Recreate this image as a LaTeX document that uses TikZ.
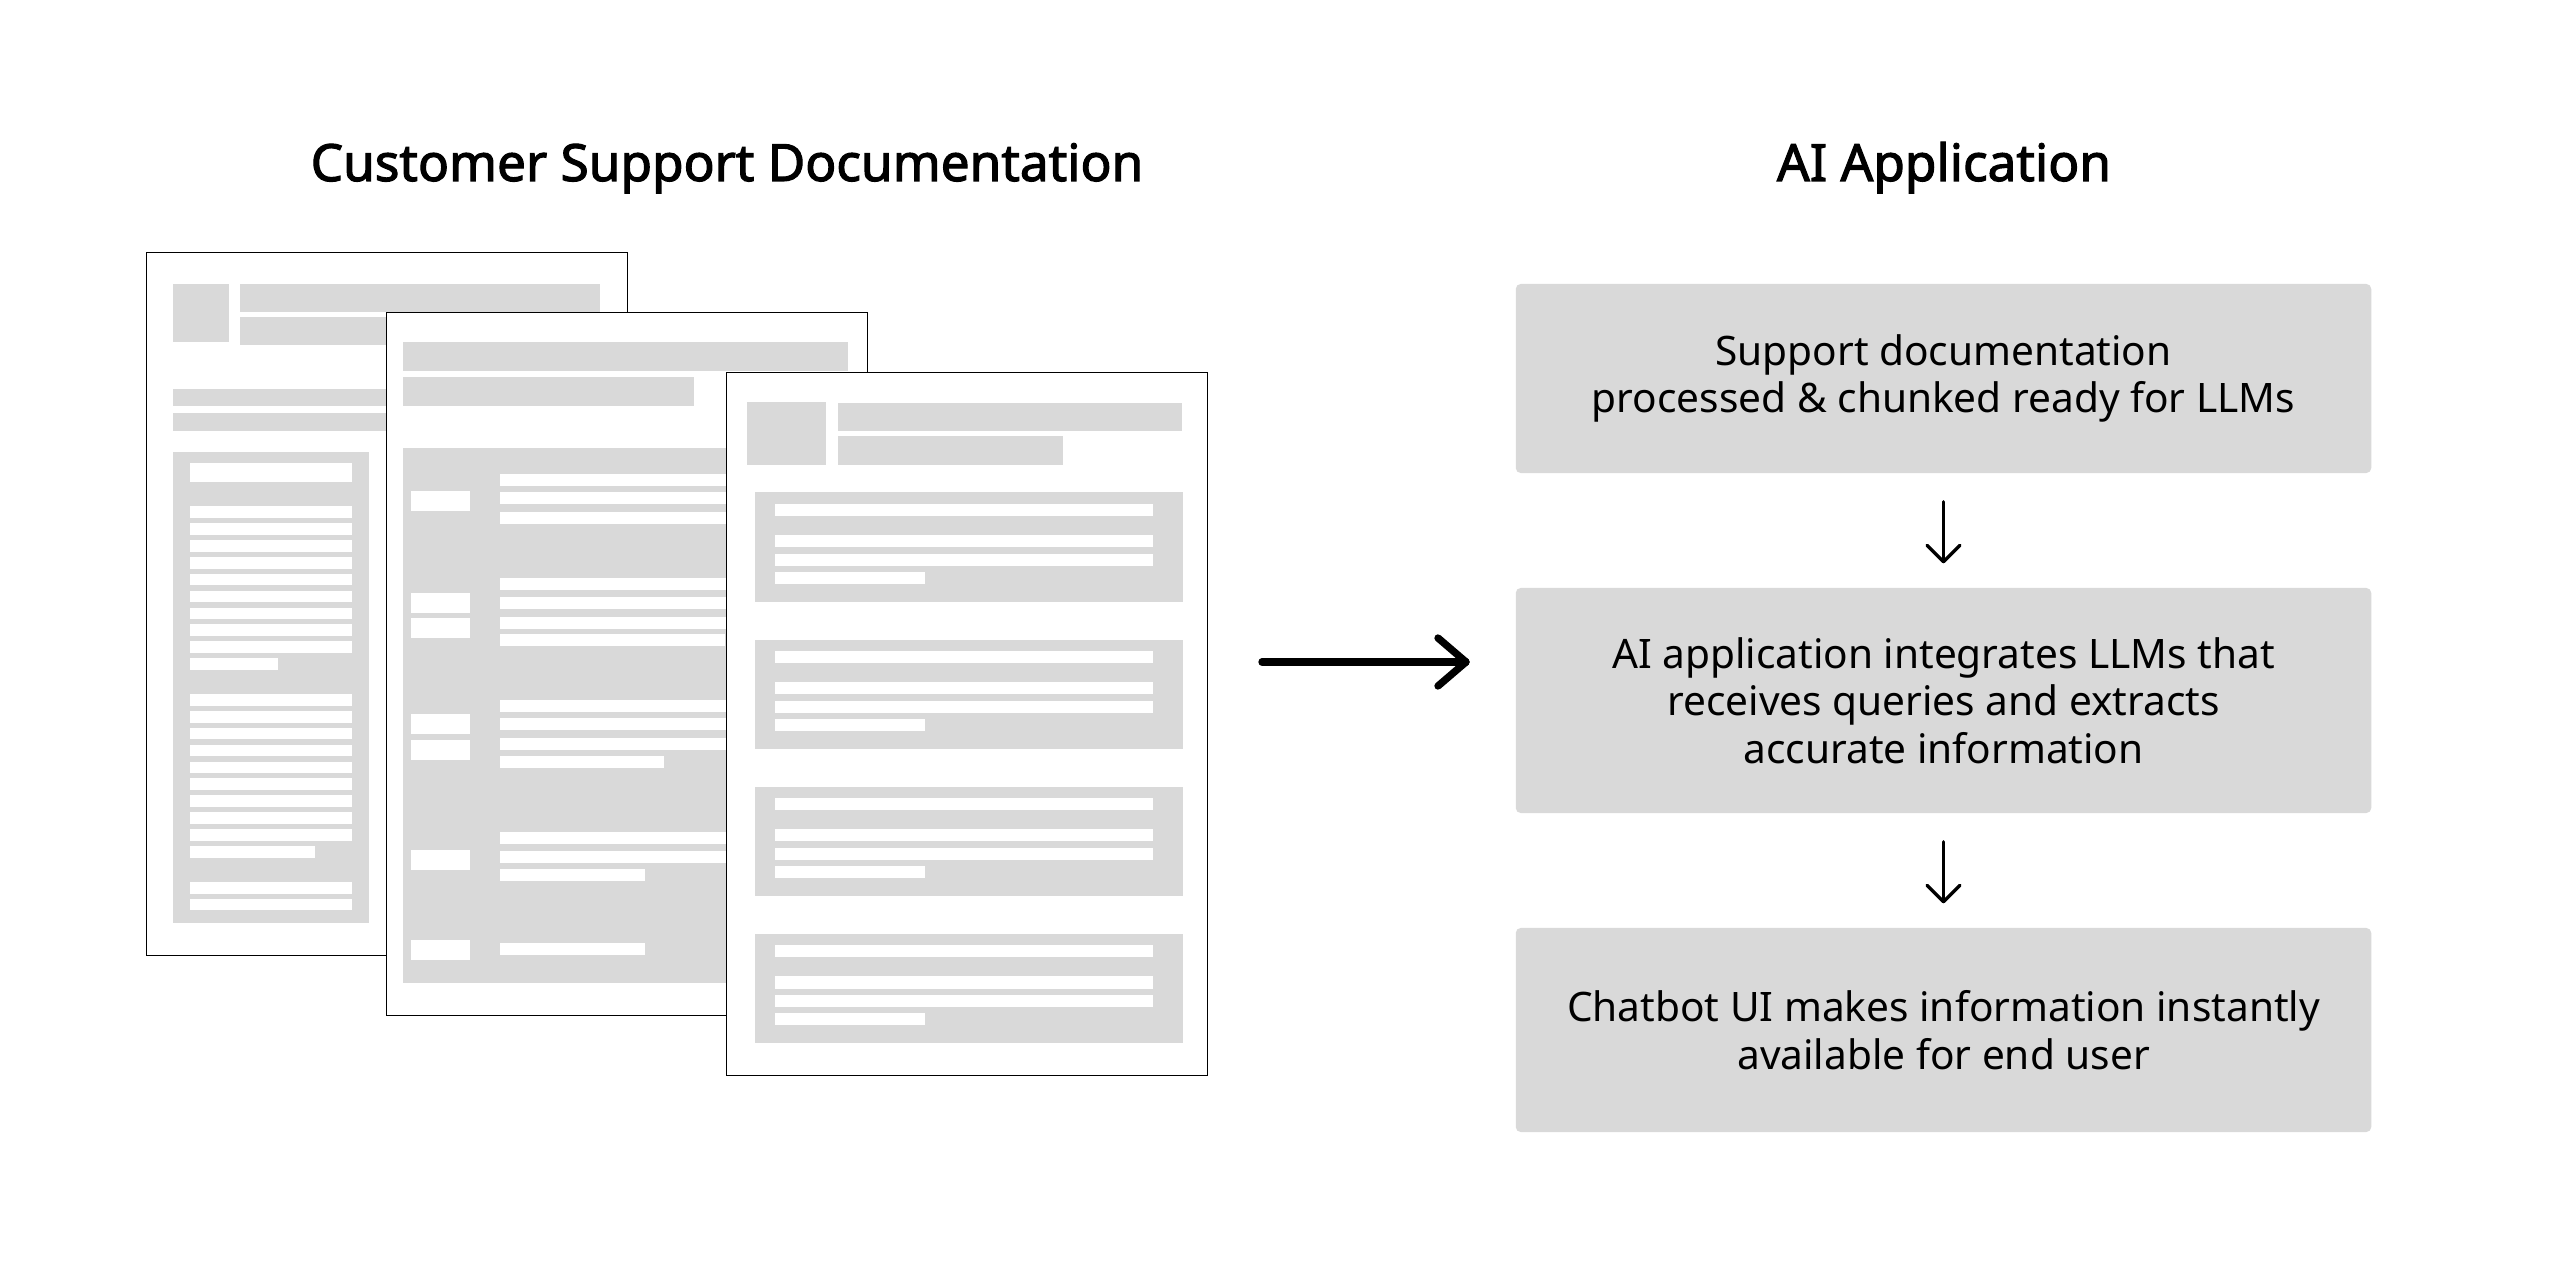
\documentclass[tikz,border=0pt]{standalone}
\usepackage{fontspec}
\setmainfont{Noto Sans}
\newfontfamily\titlefont[FakeBold=2.2]{Noto Sans}
\usetikzlibrary{calc}
\definecolor{docgray}{HTML}{D9D9D9}
\begin{document}
\begin{tikzpicture}[x=0.01cm,y=-0.01cm,
  page/.style={draw=black, line width=0.3pt, fill=white, minimum width=4.8cm, minimum height=7.02cm, inner sep=0pt, anchor=north west},
  stepbox/.style={fill=docgray, rounded corners=0.05cm, minimum width=8.55cm, inner sep=0pt, align=center, font=\fontsize{11.55}{13.5}\selectfont},
  title/.style={font=\titlefont\fontsize{14.6}{17}\selectfont, anchor=base},
  bigarrow/.style={line width=2.08pt, line cap=round, line join=round},
  smallarrow/.style={line width=0.94pt, line cap=round, line join=round},
]
\useasboundingbox[fill=white] (0,0) rectangle (2575,1264);

% ---------- page 1 ----------
\node[page] (doc1) at (146.3,252.3) {};
\begin{scope}[shift={(146.3,252.3)}]
  \fill[docgray] (26.7,31.7) rectangle (82.3,89.4);
  \fill[docgray] (93.7,31.7) rectangle (453.3,59.5);
  \fill[docgray] (93.7,64.7) rectangle (330,92.4);
  \fill[docgray] (26.3,137) rectangle (453.3,154);
  \fill[docgray] (26.3,161) rectangle (453.3,179);
  \fill[docgray] (26.3,199.4) rectangle (223,670.6);
  \fill[white] (43.7,210.6) rectangle (205.3,229.7);
  \foreach \i in {0,...,8} {\fill[white] (43.7,{254+16.87*\i}) rectangle (205.3,{265.6+16.87*\i});}
  \fill[white] (43.7,{254+16.87*9}) rectangle (131.3,{265.6+16.87*9});
  \foreach \i in {0,...,8} {\fill[white] (43.7,{441.8+16.87*\i}) rectangle (205.3,{453.4+16.87*\i});}
  \fill[white] (43.7,{441.8+16.87*9}) rectangle (168.3,{453.4+16.87*9});
  \fill[white] (43.7,630) rectangle (205.3,641.6);
  \fill[white] (43.7,646.3) rectangle (205.3,657.9);
\end{scope}

% ---------- page 2 ----------
\node[page] (doc2) at (386.3,312.3) {};
\begin{scope}[shift={(386.3,312.3)}]
  \fill[docgray] (16.3,29.4) rectangle (461.3,58.7);
  \fill[docgray] (16.3,64.3) rectangle (307.3,93.7);
  \fill[docgray] (16.3,135.6) rectangle (461.3,670.6);
  \foreach \t in {179,281,306.1,401.7,427.8,537.8,627.7} {\fill[white] (24.7,\t) rectangle (83.3,{\t+19.6});}
  \foreach \t in {161.7,179.9,199.4,266.1,284.7,304.3,387.2,405.9,425.5,519.6,538.2} {\fill[white] (114,\t) rectangle (445,{\t+12.1});}
  \fill[white] (114,322) rectangle (338.3,334.1);
  \fill[white] (114,443.2) rectangle (277.3,455.3);
  \fill[white] (114,556.9) rectangle (259,569);
  \fill[white] (114,631) rectangle (259,643.1);
\end{scope}

% ---------- page 3 ----------
\node[page] (doc3) at (726.3,372.3) {};
\begin{scope}[shift={(726.3,372.3)}]
  \fill[docgray] (20.7,29.4) rectangle (99.3,92.3);
  \fill[docgray] (111.3,30.3) rectangle (455.7,58.3);
  \fill[docgray] (111.3,63.4) rectangle (336.7,92.3);
  \foreach \t in {120.2,267.5,414.3,561.7} {
    \fill[docgray] (28.7,\t) rectangle (456.5,{\t+109.1});
    \fill[white] (48.7,{\t+11.2}) rectangle (426.7,{\t+23.3});
    \fill[white] (48.7,{\t+42.4}) rectangle (426.7,{\t+54.5});
    \fill[white] (48.7,{\t+61.1}) rectangle (426.7,{\t+73.2});
    \fill[white] (48.7,{\t+79.3}) rectangle (198.7,{\t+91.4});
  }
\end{scope}

% ---------- titles ----------
\node[title] (t1) at (727,181) {Customer Support Documentation};
\node[title] (t2) at (1944,181) {AI Application};

% ---------- boxes ----------
\node[stepbox, minimum height=1.89cm] (b1) at (1943.5,378.5) {Support documentation\\processed \& chunked ready for LLMs};
\node[stepbox, minimum height=2.25cm] (b2) at (1943.5,700.5) {AI application integrates LLMs that\\receives queries and extracts\\accurate information};
\node[stepbox, minimum height=2.04cm] (b3) at (1943.5,1030) {Chatbot UI makes information instantly\\available for end user};

% ---------- main arrow ----------
\coordinate (m1) at (1262,662);
\coordinate (m2) at (1466,662);
\draw[bigarrow] (m1) -- (m2);
\draw[bigarrow] ($(m2)+(-28,-24)$) -- (m2) -- ($(m2)+(-28,24)$);

% ---------- small arrows ----------
\coordinate (a1s) at ([yshift=-0.28cm]b1.south);
\coordinate (a1e) at ([yshift=0.255cm]b2.north);
\draw[smallarrow] (a1s) -- (a1e);
\draw[smallarrow] ($(a1e)+(-16.5,-16.5)$) -- (a1e) -- ($(a1e)+(16.5,-16.5)$);
\coordinate (a2s) at ([yshift=-0.28cm]b2.south);
\coordinate (a2e) at ([yshift=0.255cm]b3.north);
\draw[smallarrow] (a2s) -- (a2e);
\draw[smallarrow] ($(a2e)+(-16.5,-16.5)$) -- (a2e) -- ($(a2e)+(16.5,-16.5)$);
\end{tikzpicture}
\end{document}
